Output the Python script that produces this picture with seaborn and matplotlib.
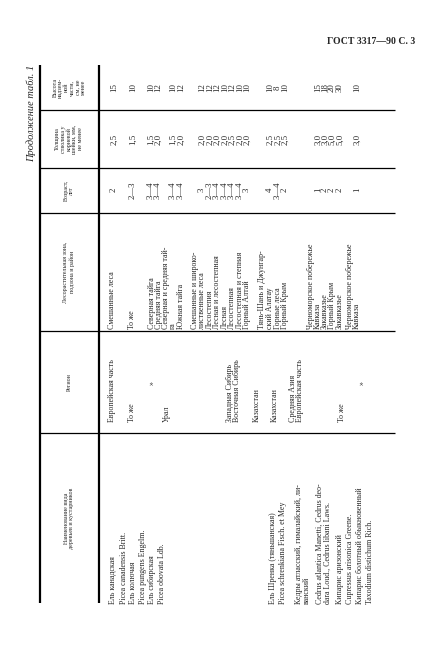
import matplotlib
matplotlib.use("Agg")
import matplotlib.pyplot as plt
import seaborn as sns

sns.set_theme(style="white")
plt.rcParams['font.family'] = ['Liberation Serif', 'DejaVu Serif']

# header texts of the columns (right to left on the page)
headers = [
    "Высота\nнадзем-\nной\nчасти,\nсм, не\nменее",
    "Толщина\nстволика у\nкорневой\nшейки, мм,\nне менее",
    "Возраст,\nлет",
    "Лесорастительная зона,\nподзона и район",
    "Регион",
    "Наименование вида\nдеревьев и кустарников",
]

names = [
    "Ель канадская", "Picea canadensis Britt.", "Ель колючая",
    "Picea pungens Engelm.", "Ель сибирская", "Picea obovata Ldb.",
    "Ель Шренка (тяньшанская)", "Picea schrenkiana Fisch. et Mey",
    "Кедры атласский, гималайский, ли-", "ванский",
    "Cedrus atlantica Manetti, Cedrus deo-", "dara Loud., Cedrus libani Laws.",
    "Кипарис аризонский", "Cupressus arisonica Greene.",
    "Кипарис болотный обыкновенный", "Taxodium distichum Rich.",
]
name_rows = [113, 124, 133, 143, 152, 162, 273, 283, 299, 307, 320, 328, 340, 350, 360, 370]

regions = ["Европейская часть", "То же", "»", "Урал", "Западная Сибирь",
           "Восточная Сибирь", "Казахстан", "Казахстан", "Средняя Азия",
           "Европейская часть", "То же", "»"]
region_rows = [112, 132, 152, 167, 230, 237, 257, 275, 293, 300, 342, 362]

zones = [
    "Смешанные леса", "То же", "Северная тайга", "Средняя тайга",
    "Северная и средняя тай-", "га", "Южная тайга", "Смешанные и широко-",
    "лиственные леса", "Лесостепия", "Лесная и лесостепная", "Лесная",
    "Лесостепная", "Лесостепная и степная", "Горный Алтай",
    "Тянь-Шань и Джунгар-", "ский Алатау", "Горные леса", "Горный Крым",
    "Черноморское побережье", "Кавказа", "Закавказье", "Горный Крым",
    "Закавказье", "Черноморское побережье", "Кавказа",
]
zone_rows = [112, 132, 152, 159, 166, 173, 181, 195, 202, 210, 217, 225, 232,
             240, 247, 262, 270, 278, 285, 311, 318, 325, 332, 340, 350, 357]

ages = ["2", "2—3", "3—4", "3—4", "3—4", "3—4", "3", "2—3", "3—4", "3—4",
        "3—4", "3—4", "3", "4", "3—4", "2", "1", "2", "2", "2", "1"]
thickness = ["2,5", "1,5", "1,5", "2,0", "1,5", "2,0", "2,0", "2,0", "2,0",
             "2,0", "2,5", "2,0", "2,0", "2,5", "2,5", "2,5", "3,0", "3,0",
             "5,0", "5,0", "3,0"]
heights = ["15", "10", "10", "12", "10", "12", "12", "12", "12", "10", "12",
           "10", "10", "10", "8", "10", "15", "18", "20", "30", "10"]
value_rows = [114, 133, 151, 158, 173, 181, 202, 210, 217, 225, 232, 240, 247,
              270, 278, 285, 318, 325, 332, 340, 357]

W, H = 423, 653
fig = plt.figure(figsize=(W / 100, H / 100), dpi=100)
ax = fig.add_axes([0, 0, 1, 1])
ax.set_xlim(0, W)
ax.set_ylim(H, 0)
ax.axis("off")

# column borders (page is rotated: columns run across, rows run down)
col_edges = [65, 110, 168, 213, 331, 433, 603]
ax.vlines(40, 65, 603, color="black", lw=1.6)
ax.vlines(99, 65, 603, color="black", lw=1.6)
ax.hlines(col_edges[1:-1], 40, 395, color="black", lw=0.9)

fs = 5.7
# headers
for i, h in enumerate(headers):
    yc = (col_edges[i] + col_edges[i + 1]) / 2
    ax.text(69, yc, h, rotation=90, ha="center", va="center",
            fontsize=4.3, linespacing=1.15, multialignment="center")

def column(rows, texts, ybottom, center=None, size=fs):
    for x, t in zip(rows, texts):
        if t == "»":
            ax.text(x, 383, t, rotation=90, ha="center", va="center", fontsize=size)
        elif center is None:
            ax.text(x, ybottom, t, rotation=90, ha="center", va="bottom", fontsize=size)
        else:
            ax.text(x, center, t, rotation=90, ha="center", va="center", fontsize=size)

column(name_rows, names, 604)
column(region_rows, regions, 422)
column(zone_rows, zones, 329)
column(value_rows, ages, None, center=190, size=6.3)
column(value_rows, thickness, None, center=139, size=6.3)
column(value_rows, heights, None, center=88, size=6.3)

ax.text(415, 42, "ГОСТ 3317—90 С. 3", ha="right", va="center",
        fontsize=7, fontweight="bold")
ax.text(31, 113, "Продолжение табл. 1", rotation=90, ha="center", va="center",
        fontsize=7.5, style="italic")

fig.savefig("out.png", dpi=100)
